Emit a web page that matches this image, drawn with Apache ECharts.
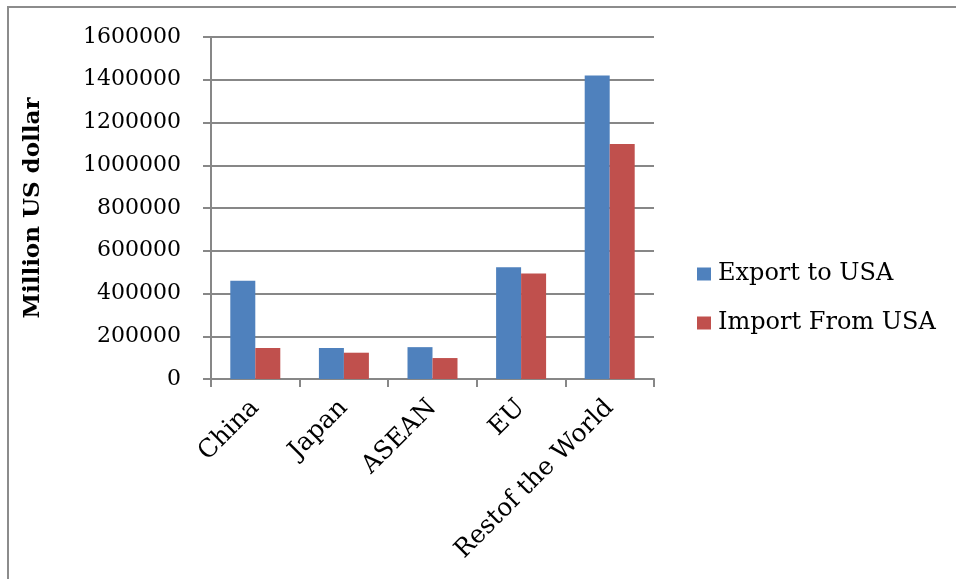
<!DOCTYPE html>
<html>
<head>
<meta charset="utf-8">
<script src="https://cdn.jsdelivr.net/npm/echarts@6/dist/echarts.min.js"></script>
<style>
html,body{margin:0;padding:0;background:#fff;}
#chart{width:956px;height:579px;}
</style>
</head>
<body>
<div id="chart"></div>
<script>
const categories = ["China", "Japan", "ASEAN", "EU", "Restof the World"];
const exportToUSA = [460000, 145000, 149000, 523000, 1420000];
const importFromUSA = [145000, 123000, 98000, 493000, 1100000];
const yTicks = { min: 0, max: 1600000, interval: 200000 };

const FONT = "DejaVu Serif";
const GRAY = "#878787";
const chart = echarts.init(document.getElementById('chart'), null, { renderer: 'canvas' });
chart.setOption({
  animation: false,
  backgroundColor: '#fff',
  graphic: [{
    type: 'polyline',
    shape: { points: [[8, 600], [8, 7], [1000, 7]] },
    style: { stroke: '#8c8c8c', lineWidth: 2, fill: null }
  }],
  grid: { left: 211, right: 302, top: 37, bottom: 200 },
  legend: {
    orient: 'vertical',
    left: 697,
    top: 262,
    padding: 0,
    itemWidth: 14,
    itemHeight: 13,
    itemGap: 25,
    icon: 'rect',
    textStyle: { fontFamily: FONT, fontSize: 24, color: '#000', padding: [0, 0, 0, 2] },
    data: ['Export to USA', 'Import From USA']
  },
  xAxis: {
    type: 'category',
    data: categories,
    axisLine: { lineStyle: { color: GRAY, width: 2 } },
    axisTick: { show: true, length: 8, inside: false, lineStyle: { color: GRAY, width: 2 } },
    axisLabel: { rotate: 45, margin: 25, fontFamily: FONT, fontSize: 25, color: '#000', interval: 0 }
  },
  yAxis: {
    type: 'value',
    min: yTicks.min,
    max: yTicks.max,
    interval: yTicks.interval,
    name: 'Million US dollar',
    nameLocation: 'middle',
    nameGap: 166,
    nameRotate: 90,
    nameTextStyle: { fontFamily: FONT, fontSize: 23, fontWeight: 'bold', color: '#000' },
    axisLine: { show: true, lineStyle: { color: GRAY, width: 2 } },
    axisTick: { show: true, length: 8, lineStyle: { color: GRAY, width: 2 } },
    splitLine: { show: true, lineStyle: { color: GRAY, width: 2 } },
    axisLabel: { margin: 30, fontFamily: FONT, fontSize: 22, color: '#000', formatter: v => String(v) }
  },
  series: [
    {
      name: 'Export to USA', type: 'bar', data: exportToUSA,
      barWidth: 25, barGap: '0%',
      itemStyle: { color: '#4F81BD' }
    },
    {
      name: 'Import From USA', type: 'bar', data: importFromUSA,
      barWidth: 25, barGap: '0%',
      itemStyle: { color: '#C0504D' }
    }
  ]
});
</script>
</body>
</html>
